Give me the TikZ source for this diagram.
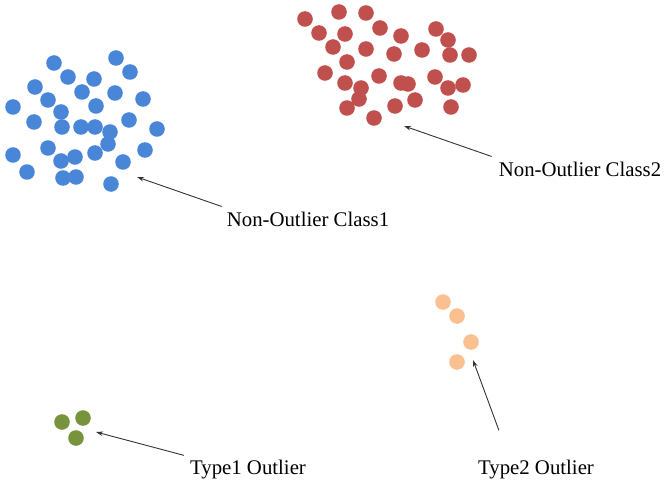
\documentclass[tikz,border=0pt]{standalone}
\usepackage{fontspec}
\setmainfont{Liberation Serif}
\usetikzlibrary{arrows.meta,calc}

\definecolor{blu}{HTML}{4A86D8}
\definecolor{rosso}{HTML}{C0504D}
\definecolor{verde}{HTML}{77933C}
\definecolor{arancio}{HTML}{FAC090}

\tikzset{
  etichetta/.style={font=\fontsize{20.8}{24}\selectfont, inner sep=2pt},
  freccia/.style={draw=black!80, line width=0.9pt, -{Stealth[length=7pt,width=4.5pt]}}
}

\begin{document}
\begin{tikzpicture}[x=1pt, y=-1pt]

        % Area del disegno (664 x 492)
        \useasboundingbox (0,0) rectangle (664,492);

        % Punti della classe 1 (blu)
        \foreach \px/\py in {54/63, 116/58, 130/72, 68/77, 94/79, 35/87, 82/92, 115/93,
                             143/99, 48/100, 13/107, 96/106, 61/112, 34/122, 129/120,
                             62/127, 81/127, 95/127, 110/132, 157/129, 108/144, 48/148,
                             13/155, 75/157, 95/153, 145/150, 61/161, 123/162, 27/172,
                             63/178, 76/177, 111/184}
            \fill[blu] (\px,\py) circle (7.8);

        % Punti della classe 2 (rossi)
        \foreach \px/\py in {305/19, 339/12, 366/13, 319/33, 345/34, 380/28, 401/36, 436/29,
                             448/40, 333/47, 366/49, 394/54, 422/50, 450/55, 469/55,
                             347/62, 325/73, 379/76, 435/77, 345/83, 361/88, 401/83,
                             408/84, 448/88, 463/85, 359/99, 415/100, 347/108, 395/106,
                             451/107, 374/118}
            \fill[rosso] (\px,\py) circle (7.8);

        % Outlier di tipo 1 (verdi)
        \foreach \px/\py in {62/422, 83/418, 76/438}
            \fill[verde] (\px,\py) circle (7.8);

        % Outlier di tipo 2 (arancioni)
        \foreach \px/\py in {443/302, 457/316, 471/342, 457/362}
            \fill[arancio] (\px,\py) circle (7.8);

        % Etichette
        \node[etichetta] (nc1) at (308,219) {Non-Outlier Class1};
        \node[etichetta] (nc2) at (580,169) {Non-Outlier Class2};
        \node[etichetta] (ty1) at (248,470) {Type1 Outlier};
        \node[etichetta] (ty2) at (536,470) {Type2 Outlier};

        % Punte delle frecce
        \coordinate (pc1) at (137,177);
        \coordinate (pc2) at (404,126);
        \coordinate (pt1) at (96,432);
        \coordinate (pt2) at (473,360);

        % Frecce
        \draw[freccia] ([shift={(-3,-3)}]nc1.north west) -- (pc1);
        \draw[freccia] ([shift={(-5,-3)}]nc2.north west) -- (pc2);
        \draw[freccia] ([shift={(-4,-3)}]ty1.north west) -- (pt1);
        \draw[freccia] ([shift={(23,-28)}]ty2.north west) -- (pt2);

    \end{tikzpicture}
\end{document}
